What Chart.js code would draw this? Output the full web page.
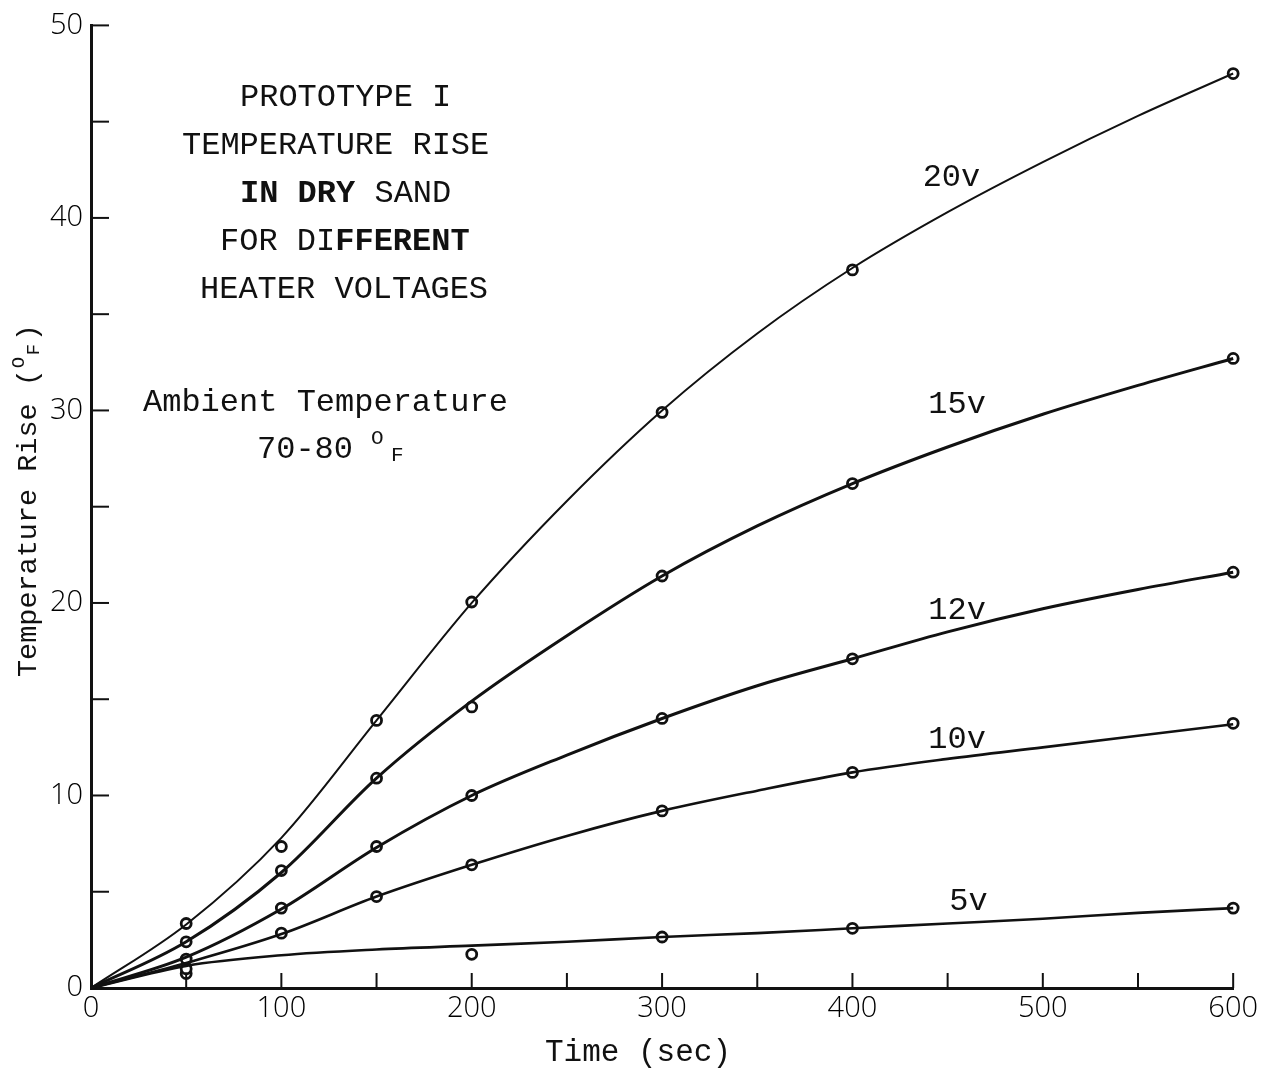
<!DOCTYPE html>
<html>
<head>
<meta charset="utf-8">
<script src="https://cdn.jsdelivr.net/npm/chart.js@4.4.1/dist/chart.umd.min.js"></script>
<style>
  html, body { margin: 0; padding: 0; background: #ffffff; }
  #wrap { width: 1261px; height: 1070px; position: relative; }
</style>
</head>
<body>
<div id="wrap"><canvas id="c"></canvas></div>
<script>
// ---- data ----
const curveTimes = [0, 50, 100, 150, 200, 250, 300, 350, 400, 450, 500, 550, 600];
const curve20v = [0, 3.3, 7.8, 13.9, 20.0, 25.3, 30.0, 34.0, 37.4, 40.3, 42.9, 45.3, 47.5];
const curve15v = [0, 2.4, 6.0, 10.9, 14.9, 18.3, 21.4, 24.0, 26.2, 28.1, 29.8, 31.3, 32.7];
const curve12v = [0, 1.6, 4.1, 7.3, 10.0, 12.1, 14.0, 15.7, 17.1, 18.5, 19.7, 20.7, 21.6];
const curve10v = [0, 1.3, 2.8, 4.75, 6.4, 7.9, 9.2, 10.25, 11.2, 11.9, 12.5, 13.1, 13.7];
const curve5v  = [0, 1.15, 1.7, 2.0, 2.2, 2.4, 2.65, 2.85, 3.1, 3.35, 3.6, 3.9, 4.15];

const markerTimes = [50, 100, 150, 200, 300, 400, 600];
const pts20v = [3.35, 7.35, 13.9, 20.05, 29.9, 37.3, 47.5];
const pts15v = [2.4, 6.1, 10.9, 14.6, 21.4, 26.2, 32.7];
const pts12v = [1.5, 4.15, 7.35, 10.0, 14.0, 17.1, 21.6];
const pts10v = [1.0, 2.85, 4.75, 6.4, 9.2, 11.2, 13.75];
const pts5v  = [0.75, null, null, 1.75, 2.65, 3.1, 4.15];

const seriesNames = ['20v', '15v', '12v', '10v', '5v'];
const labelTimes  = [452, 455, 455, 455, 461];
const labelValues = [42.1, 30.3, 19.6, 12.9, 4.5];

const xTickValues = [0, 100, 200, 300, 400, 500, 600];
const yTickValues = [0, 10, 20, 30, 40, 50];

const titleLines = ['PROTOTYPE I', 'TEMPERATURE RISE', 'IN DRY SAND', 'FOR DIFFERENT', 'HEATER VOLTAGES'];
const ambientLines = ['Ambient Temperature', '70-80 '];
const xTitle = 'Time (sec)';
const yTitle = 'Temperature Rise (';

// ---- build datasets ----
const curves = [curve20v, curve15v, curve12v, curve10v, curve5v];
const points = [pts20v, pts15v, pts12v, pts10v, pts5v];
const curveWidths = [2, 3, 3, 2.6, 2.6];

const datasets = [];
curves.forEach((c, i) => {
  datasets.push({
    label: seriesNames[i] + ' curve',
    data: curveTimes.map((t, k) => ({ x: t, y: c[k] })),
    showLine: true,
    borderColor: '#111',
    borderWidth: curveWidths[i],
    pointRadius: 0,
    cubicInterpolationMode: 'monotone',
    clip: false
  });
});
points.forEach((p, i) => {
  datasets.push({
    label: seriesNames[i] + ' data',
    data: markerTimes.map((t, k) => ({ x: t, y: p[k] })).filter(d => d.y !== null),
    showLine: false,
    pointRadius: 5,
    pointBorderWidth: 2.8,
    pointBorderColor: '#111',
    pointBackgroundColor: '#fff',
    clip: false
  });
});

const MONO = '"Liberation Mono", "DejaVu Sans Mono", monospace';
const TICKFONT = '"Open Sans", "DejaVu Sans", sans-serif';

const decorations = {
  id: 'decorations',
  afterDraw(chart) {
    const { ctx, scales: { x, y }, chartArea } = chart;
    ctx.save();
    // inward ticks
    ctx.strokeStyle = '#111';
    ctx.lineWidth = 2;
    x.ticks.forEach(t => {
      if (t.value === 0) return;
      const px = x.getPixelForValue(t.value);
      ctx.beginPath(); ctx.moveTo(px, chartArea.bottom); ctx.lineTo(px, chartArea.bottom - 15); ctx.stroke();
    });
    y.ticks.forEach(t => {
      if (t.value === 0) return;
      const py = y.getPixelForValue(t.value);
      ctx.beginPath(); ctx.moveTo(chartArea.left, py); ctx.lineTo(chartArea.left + 18, py); ctx.stroke();
    });

    ctx.fillStyle = '#111';
    ctx.textBaseline = 'alphabetic';
    ctx.textAlign = 'left';
    const reg = '32px ' + MONO;
    const bold = 'bold 32px ' + MONO;

    function segs(list, x0, yb) {
      let cx = x0;
      list.forEach(s => {
        ctx.font = s.b ? bold : reg;
        ctx.fillText(s.t, cx, yb);
        cx += ctx.measureText(s.t).width;
      });
    }
    // title block
    segs([{ t: titleLines[0] }], 240, 106);
    segs([{ t: titleLines[1] }], 182, 154);
    segs([{ t: 'IN DRY', b: true }, { t: ' SAND' }], 240, 202);
    segs([{ t: 'FOR DI' }, { t: 'FFERENT', b: true }], 220, 250);
    segs([{ t: titleLines[4] }], 200, 298);

    // ambient
    segs([{ t: ambientLines[0] }], 143, 411);
    segs([{ t: ambientLines[1] }], 257, 458);
    ctx.font = '21px ' + MONO;
    ctx.fillText('O', 371, 444);
    ctx.fillText('F', 391, 461);

    // curve labels
    ctx.font = '32px ' + MONO;
    ctx.textAlign = 'center';
    ctx.textBaseline = 'middle';
    seriesNames.forEach((n, i) => {
      ctx.fillText(n, x.getPixelForValue(labelTimes[i]), y.getPixelForValue(labelValues[i]));
    });

    // x axis title
    ctx.textAlign = 'left';
    ctx.textBaseline = 'alphabetic';
    ctx.font = '31px ' + MONO;
    ctx.fillText(xTitle, 545, 1061);

    // y axis title (rotated)
    ctx.translate(36, 677);
    ctx.rotate(-Math.PI / 2);
    ctx.font = '28.5px ' + MONO;
    ctx.fillText(yTitle, 0, 0);
    let w = ctx.measureText(yTitle).width;
    ctx.font = '19px ' + MONO;
    ctx.fillText('O', w + 1, -12);
    ctx.fillText('F', w + 14, 3);
    ctx.font = '28.5px ' + MONO;
    ctx.fillText(')', w + 28, 0);
    ctx.restore();
  }
};

new Chart(document.getElementById('c'), {
  type: 'scatter',
  data: { datasets },
  options: {
    responsive: true,
    maintainAspectRatio: false,
    animation: false,
    events: [],
    layout: { padding: { top: 25, right: 24, left: 0, bottom: 0 } },
    plugins: { legend: { display: false }, tooltip: { enabled: false } },
    scales: {
      x: {
        type: 'linear',
        min: 0, max: 600,
        afterFit: s => { s.height = 82; },
        afterBuildTicks: s => { s.ticks = [0,50,100,150,200,250,300,350,400,450,500,550,600].map(v => ({ value: v })); },
        ticks: {
          autoSkip: false, maxRotation: 0, padding: 3,
          color: '#000',
          font: { family: TICKFONT, size: 29, weight: 300 },
          callback: v => (xTickValues.includes(v) ? String(v) : '')
        },
        grid: { display: false, drawTicks: false },
        border: { display: true, color: '#111', width: 3 }
      },
      y: {
        type: 'linear',
        min: 0, max: 50,
        afterFit: s => { s.width = 91; },
        afterBuildTicks: s => { s.ticks = [0,5,10,15,20,25,30,35,40,45,50].map(v => ({ value: v })); },
        ticks: {
          autoSkip: false, padding: 8,
          color: '#000',
          font: { family: TICKFONT, size: 29, weight: 300 },
          callback: v => (yTickValues.includes(v) ? String(v) : '')
        },
        grid: { display: false, drawTicks: false },
        border: { display: true, color: '#111', width: 3 }
      }
    }
  },
  plugins: [decorations]
});
</script>
</body>
</html>
